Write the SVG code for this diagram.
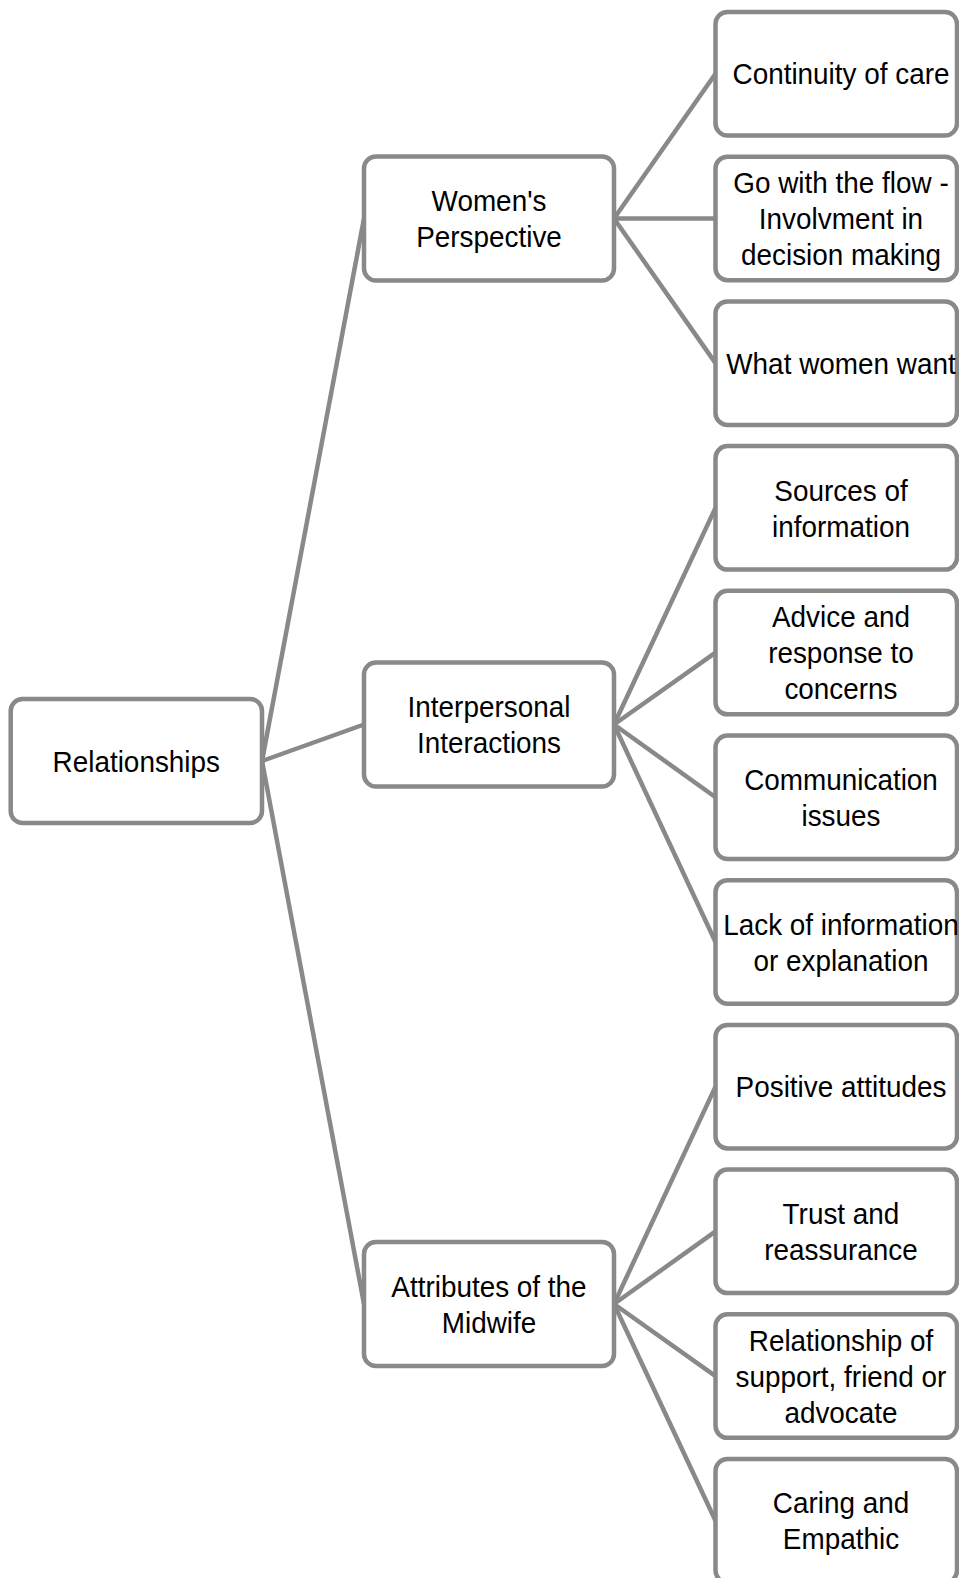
<svg xmlns="http://www.w3.org/2000/svg" width="959" height="1578" viewBox="0 0 959 1578">
<style>
.box{fill:#fff;stroke:#898989;stroke-width:4.5}
.ln{stroke:#898989;stroke-width:4.5;fill:none}
text{font-family:"Liberation Sans",Arial,sans-serif;font-size:30px;fill:#000;text-anchor:middle}
.r{}
</style>
<rect width="959" height="1578" fill="#fff"/>
<g id="connectors">
<line class="ln" x1="262" y1="761" x2="364" y2="218.5"/>
<line class="ln" x1="262" y1="761" x2="364" y2="724.5"/>
<line class="ln" x1="262" y1="761" x2="364" y2="1304"/>
<line class="ln" x1="614" y1="218.5" x2="715.5" y2="73.75"/>
<line class="ln" x1="614" y1="218.5" x2="715.5" y2="218.45"/>
<line class="ln" x1="614" y1="218.5" x2="715.5" y2="363.15"/>
<line class="ln" x1="614" y1="724.5" x2="715.5" y2="507.85"/>
<line class="ln" x1="614" y1="724.5" x2="715.5" y2="652.55"/>
<line class="ln" x1="614" y1="724.5" x2="715.5" y2="797.25"/>
<line class="ln" x1="614" y1="724.5" x2="715.5" y2="941.95"/>
<line class="ln" x1="614" y1="1304" x2="715.5" y2="1086.65"/>
<line class="ln" x1="614" y1="1304" x2="715.5" y2="1231.35"/>
<line class="ln" x1="614" y1="1304" x2="715.5" y2="1376.05"/>
<line class="ln" x1="614" y1="1304" x2="715.5" y2="1520.75"/>
</g>
<g id="root">
<rect class="box" x="10.7" y="699" width="251.3" height="124" rx="12"/>
<text transform="matrix(0.93 0 0 1 9.54 0)" x="136.3" y="771.7">Relationships</text>
</g>
<g id="womens-perspective">
<rect class="box" x="364" y="156.5" width="250" height="124" rx="12"/>
<text transform="matrix(0.93 0 0 1 34.23 0)" x="489" y="211.2">Women's</text>
<text transform="matrix(0.93 0 0 1 34.23 0)" x="489" y="247.2">Perspective</text>
</g>
<g id="interpersonal-interactions">
<rect class="box" x="364" y="662.5" width="250" height="124" rx="12"/>
<text transform="matrix(0.93 0 0 1 34.23 0)" x="489" y="717.2">Interpersonal</text>
<text transform="matrix(0.93 0 0 1 34.23 0)" x="489" y="753.2">Interactions</text>
</g>
<g id="attributes-midwife">
<rect class="box" x="364" y="1242" width="250" height="124" rx="12"/>
<text transform="matrix(0.93 0 0 1 34.23 0)" x="489" y="1296.7">Attributes of the</text>
<text transform="matrix(0.93 0 0 1 34.23 0)" x="489" y="1332.7">Midwife</text>
</g>
<g id="continuity">
<rect class="box" x="715.5" y="12" width="241.5" height="123.5" rx="12"/>
<text transform="matrix(0.93 0 0 1 58.87 0)" x="841" y="84.45">Continuity of care</text>
</g>
<g id="go-with-flow">
<rect class="box" x="715.5" y="156.7" width="241.5" height="123.5" rx="12"/>
<text transform="matrix(0.93 0 0 1 58.87 0)" x="841" y="193.15">Go with the flow -</text>
<text transform="matrix(0.93 0 0 1 58.87 0)" x="841" y="229.15">Involvment in</text>
<text transform="matrix(0.93 0 0 1 58.87 0)" x="841" y="265.15">decision making</text>
</g>
<g id="what-women-want">
<rect class="box" x="715.5" y="301.4" width="241.5" height="123.5" rx="12"/>
<text transform="matrix(0.93 0 0 1 58.87 0)" x="841" y="373.85">What women want</text>
</g>
<g id="sources">
<rect class="box" x="715.5" y="446.1" width="241.5" height="123.5" rx="12"/>
<text transform="matrix(0.93 0 0 1 58.87 0)" x="841" y="500.55">Sources of</text>
<text transform="matrix(0.93 0 0 1 58.87 0)" x="841" y="536.55">information</text>
</g>
<g id="advice">
<rect class="box" x="715.5" y="590.8" width="241.5" height="123.5" rx="12"/>
<text transform="matrix(0.93 0 0 1 58.87 0)" x="841" y="627.25">Advice and</text>
<text transform="matrix(0.93 0 0 1 58.87 0)" x="841" y="663.25">response to</text>
<text transform="matrix(0.93 0 0 1 58.87 0)" x="841" y="699.25">concerns</text>
</g>
<g id="communication">
<rect class="box" x="715.5" y="735.5" width="241.5" height="123.5" rx="12"/>
<text transform="matrix(0.93 0 0 1 58.87 0)" x="841" y="789.95">Communication</text>
<text transform="matrix(0.93 0 0 1 58.87 0)" x="841" y="825.95">issues</text>
</g>
<g id="lack-info">
<rect class="box" x="715.5" y="880.2" width="241.5" height="123.5" rx="12"/>
<text transform="matrix(0.93 0 0 1 58.87 0)" x="841" y="934.65">Lack of information</text>
<text transform="matrix(0.93 0 0 1 58.87 0)" x="841" y="970.65">or explanation</text>
</g>
<g id="positive">
<rect class="box" x="715.5" y="1024.9" width="241.5" height="123.5" rx="12"/>
<text transform="matrix(0.93 0 0 1 58.87 0)" x="841" y="1097.35">Positive attitudes</text>
</g>
<g id="trust">
<rect class="box" x="715.5" y="1169.6" width="241.5" height="123.5" rx="12"/>
<text transform="matrix(0.93 0 0 1 58.87 0)" x="841" y="1224.05">Trust and</text>
<text transform="matrix(0.93 0 0 1 58.87 0)" x="841" y="1260.05">reassurance</text>
</g>
<g id="relationship-support">
<rect class="box" x="715.5" y="1314.3" width="241.5" height="123.5" rx="12"/>
<text transform="matrix(0.93 0 0 1 58.87 0)" x="841" y="1350.75">Relationship of</text>
<text transform="matrix(0.93 0 0 1 58.87 0)" x="841" y="1386.75">support, friend or</text>
<text transform="matrix(0.93 0 0 1 58.87 0)" x="841" y="1422.75">advocate</text>
</g>
<g id="caring">
<rect class="box" x="715.5" y="1459" width="241.5" height="123.5" rx="12"/>
<text transform="matrix(0.93 0 0 1 58.87 0)" x="841" y="1513.45">Caring and</text>
<text transform="matrix(0.93 0 0 1 58.87 0)" x="841" y="1549.45">Empathic</text>
</g>
</svg>
